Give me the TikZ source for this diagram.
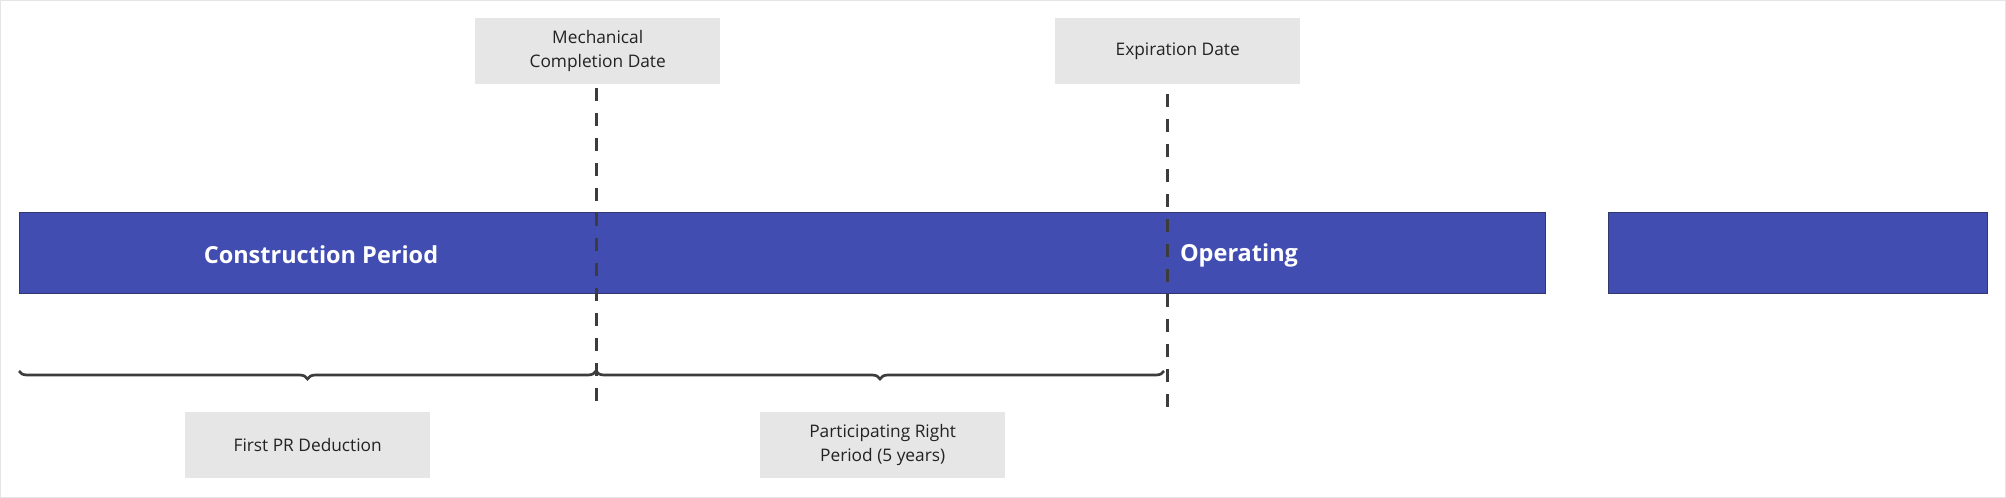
\documentclass[tikz,border=0pt]{standalone}
\usepackage{fontspec}
\setmainfont{Open Sans}
\usetikzlibrary{positioning, decorations.pathreplacing}

\definecolor{barblue}{RGB}{66,77,178}
\definecolor{barline}{RGB}{50,55,110}
\definecolor{boxgray}{RGB}{230,230,230}
\definecolor{inkgray}{RGB}{34,34,34}
\definecolor{lineink}{RGB}{60,60,60}

\tikzset{
  phase/.style={draw=barline, line width=1pt, fill=barblue, anchor=north west, minimum height=81pt, inner sep=0pt},
  phaselabel/.style={text=white, font=\fontsize{23.5}{28}\selectfont\bfseries},
  tag/.style={fill=boxgray, anchor=north west, minimum width=245pt, minimum height=66pt, inner sep=0pt, align=center, text=inkgray, font=\fontsize{17.3}{24}\selectfont},
  milestone/.style={draw=lineink, line width=3pt, dash pattern=on 13pt off 12pt},
  span/.style={draw=lineink, line width=2.7pt, decorate, decoration={brace, mirror, amplitude=8pt}}
}

\begin{document}
\begin{tikzpicture}[x=1pt, y=-1pt]
    \useasboundingbox (0,0) rectangle (2006,498);
    \draw[gray!20, line width=1pt] (0.5,0.5) rectangle (2005.5,497.5);

    % Phase bars
    \node[phase, minimum width=1526pt] (main) at (19,212) {};
    \node[phase, minimum width=379pt] (later) at (1608,212) {};
    \node[phaselabel] (constr) at (321,255) {Construction Period};
    \node[phaselabel] (oper) at (1239,255) {Operating};

    % Milestones
    \node[tag] (mcd) at (475,18) {Mechanical\\Completion Date};
    \node[tag] (exp) at (1055,18) {Expiration Date};
    \coordinate (mcdtop) at (596,88);
    \coordinate (mcdbot) at (596,402);
    \coordinate (exptop) at (1167,94);
    \coordinate (expbot) at (1167,411);
    \draw[milestone] (mcdtop) -- (mcdbot);
    \draw[milestone] (exptop) -- (expbot);

    % Periods
    \coordinate (s0) at (19,371);
    \coordinate (s1) at (596,371);
    \coordinate (s2) at (1164,371);
    \draw[span] (s0) -- (s1);
    \draw[span] (s1) -- (s2);
    \node[tag] (fpr) at (185,412) {First PR Deduction};
    \node[tag] (prp) at (760,412) {Participating Right\\Period (5 years)};
\end{tikzpicture}
\end{document}
